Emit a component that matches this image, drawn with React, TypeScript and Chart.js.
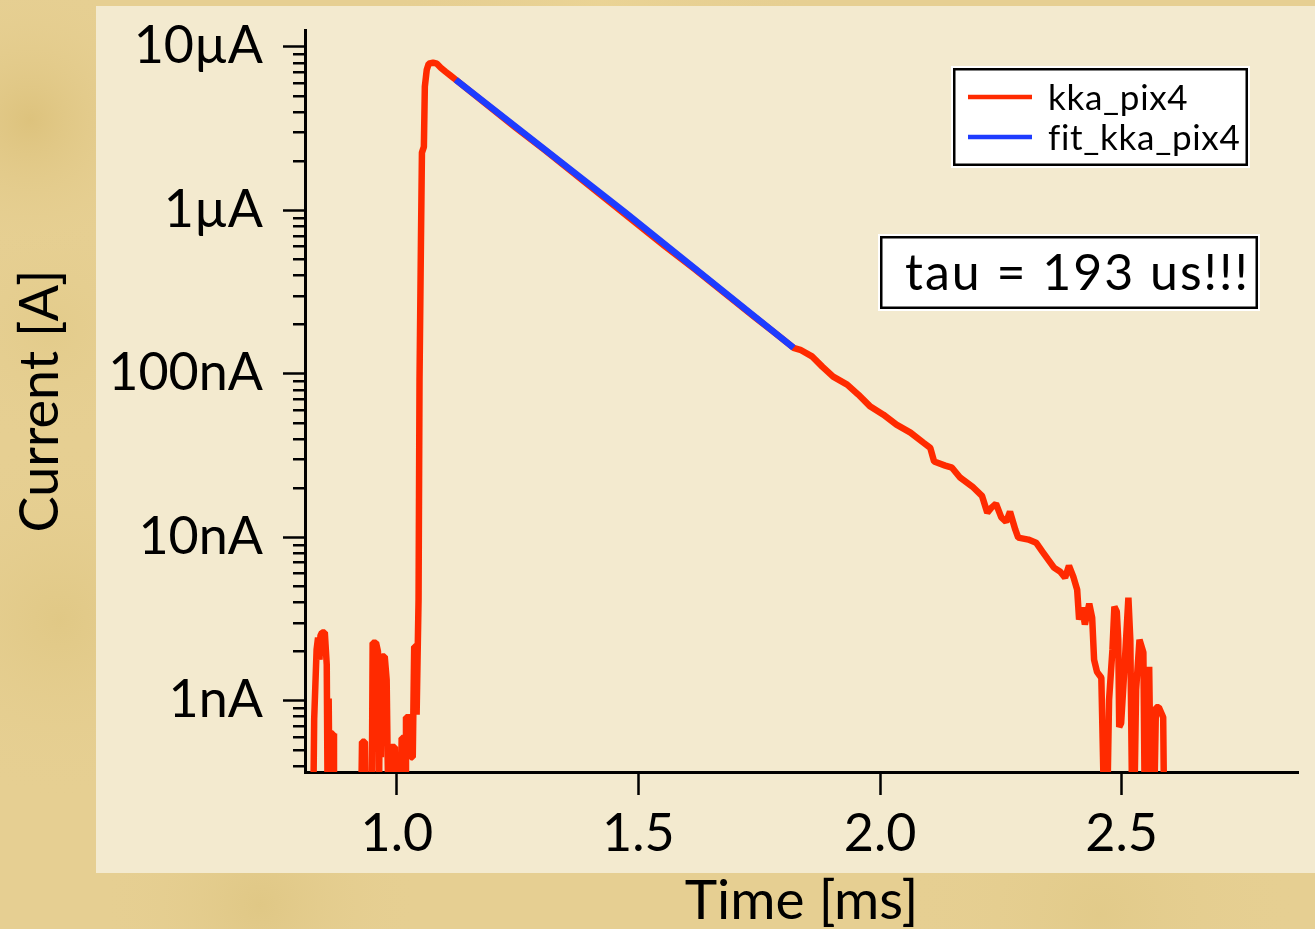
import { useEffect, useRef } from 'react';
import { Chart, registerables } from 'chart.js';

Chart.register(...registerables);

// ---------------- data ----------------
const redTime = [
  0.827, 0.829, 0.834, 0.837, 0.840, 0.842, 0.845, 0.851, 0.855, 0.857, 0.859, 0.861, 0.865, 0.868, 0.870,
  0.926, 0.928, 0.934, 0.936, 0.948, 0.950, 0.957, 0.961, 0.963, 0.965, 0.967, 0.969, 0.975, 0.979, 0.981,
  0.983, 0.988, 0.996, 0.998, 1.008, 1.010, 1.014, 1.017, 1.019, 1.027, 1.029, 1.033, 1.036, 1.038, 1.041,
  1.045, 1.047, 1.050, 1.052, 1.056, 1.058, 1.062, 1.066, 1.075, 1.083, 1.091, 1.101, 1.110, 1.122, 1.184,
  1.246, 1.308, 1.370, 1.432, 1.494, 1.556, 1.618, 1.680, 1.742, 1.784, 1.821, 1.835, 1.860, 1.881, 1.903,
  1.932, 1.955, 1.980, 2.007, 2.034, 2.063, 2.090, 2.104, 2.112, 2.135, 2.149, 2.166, 2.191, 2.211, 2.222,
  2.230, 2.240, 2.251, 2.261, 2.269, 2.280, 2.286, 2.307, 2.323, 2.336, 2.348, 2.360, 2.373, 2.383, 2.391,
  2.400, 2.408, 2.412, 2.418, 2.424, 2.433, 2.439, 2.443, 2.449, 2.458, 2.464, 2.470, 2.474, 2.481, 2.485,
  2.490, 2.493, 2.495, 2.499, 2.506, 2.514, 2.518, 2.522, 2.526, 2.530, 2.537, 2.545, 2.548, 2.553, 2.557,
  2.561, 2.567, 2.571, 2.577, 2.586, 2.588,
];
// current in nA (0.2 = reading below the bottom of the axis)
const redCurrentNA = [
  0.20, 0.77, 2.05, 2.43, 1.78, 2.50, 2.61, 2.61, 1.66, 0.20, 1.03, 0.20, 0.63, 0.63, 0.20,
  0.20, 0.56, 0.56, 0.20, 0.20, 2.26, 2.26, 2.00, 0.20, 1.66, 0.45, 1.86, 1.86, 1.34, 0.45,
  0.20, 0.52, 0.52, 0.20, 0.20, 0.59, 0.59, 0.20, 0.79, 0.79, 0.45, 0.45, 2.14, 2.14, 0.82,
  4.15, 92, 661, 2250, 2440, 5690, 7230, 7870, 7980, 7870, 7440, 7030, 6700, 6280, 4480,
  3200, 2310, 1650, 1175, 839, 598, 433, 308, 220, 176, 144, 140, 127, 110, 95.9,
  85.7, 74.5, 62.9, 56.1, 48.8, 43.6, 37.8, 35.2, 29.0, 27.4, 26.6, 23.1, 20.4, 17.9, 14.1,
  15.1, 16.0, 13.2, 12.4, 14.3, 11.1, 9.93, 9.66, 9.25, 8.15, 7.28, 6.51, 6.15, 5.65, 6.69,
  5.73, 4.77, 3.13, 3.71, 2.92, 3.92, 3.22, 1.78, 1.50, 1.38, 0.20, 0.20, 1.01, 2.05, 3.76,
  3.50, 2.36, 0.69, 0.73, 1.61, 4.27, 2.36, 0.20, 0.20, 1.17, 2.36, 1.97, 0.20, 0.20, 1.61,
  0.20, 0.20, 0.91, 0.91, 0.79, 0.20,
];
const fitTime = [1.122, 1.473, 1.821];
const fitCurrentNA = [6280, 966, 144];

const seriesLabels = ['kka_pix4', 'fit_kka_pix4'];
const seriesColors = ['#ff2a00', '#1e3cff'];

const xTickValues = [1.0, 1.5, 2.0, 2.5];
const yMajorValues = [1e-9, 1e-8, 1e-7, 1e-6, 1e-5];
const yMajorLabels = ['1nA', '10nA', '100nA', '1\u00b5A', '10\u00b5A'];
const yMinorMultipliers = [2, 3, 4, 5, 6, 7, 8, 9];
const yDecades = [1e-10, 1e-9, 1e-8, 1e-7, 1e-6, 1e-5];

const xTitle = 'Time [ms]';
const yTitle = 'Current [A]';
const annotationText = 'tau = 193 us!!!';

const X_MIN = 0.81;
const X_MAX = 2.865;
const Y_MIN = 3.66e-10;
const Y_MAX = 1.265e-5;

// ---------------- helpers ----------------
const FONT = 'Lato, "Open Sans", sans-serif';

function majorIndex(v: number): number {
  for (let i = 0; i < yMajorValues.length; i++) {
    if (Math.abs(Math.log10(v) - Math.log10(yMajorValues[i])) < 1e-6) return i;
  }
  return -1;
}

function buildYTicks() {
  const vals: number[] = [];
  yDecades.forEach((d) => {
    vals.push(d);
    yMinorMultipliers.forEach((m) => vals.push(m * d));
  });
  return vals
    .filter((v) => v >= Y_MIN && v <= Y_MAX)
    .sort((a, b) => a - b)
    .map((v) => ({ value: v }));
}

const paperPlugin = {
  id: 'paper',
  beforeDraw(chart: any) {
    const { ctx, width, height } = chart;
    ctx.save();
    ctx.fillStyle = '#e6cf92';
    ctx.fillRect(0, 0, width, height);
    const spots: [number, number, number, string][] = [
      [30, 120, 140, 'rgba(212,182,104,0.5)'],
      [50, 330, 120, 'rgba(222,198,128,0.4)'],
      [60, 620, 180, 'rgba(216,190,115,0.4)'],
      [260, 905, 160, 'rgba(214,188,114,0.4)'],
      [1100, 915, 200, 'rgba(218,194,122,0.35)'],
      [600, 0, 220, 'rgba(238,216,152,0.5)'],
    ];
    spots.forEach(([x, y, r, c]) => {
      const g = ctx.createRadialGradient(x, y, 0, x, y, r);
      g.addColorStop(0, c);
      g.addColorStop(1, 'rgba(230,207,146,0)');
      ctx.fillStyle = g;
      ctx.fillRect(x - r, y - r, 2 * r, 2 * r);
    });
    ctx.fillStyle = '#f3eacf';
    ctx.fillRect(96, 6, width - 96, 867);
    ctx.restore();
  },
};

function drawBox(ctx: CanvasRenderingContext2D, x: number, y: number, w: number, h: number) {
  ctx.fillStyle = '#ffffff';
  ctx.fillRect(x - 2, y - 2, w + 4, h + 4);
  ctx.strokeStyle = '#000000';
  ctx.lineWidth = 2.5;
  ctx.strokeRect(x + 1.25, y + 1.25, w - 2.5, h - 2.5);
}

const overlayPlugin = {
  id: 'overlay',
  afterDraw(chart: any) {
    const ctx: any = chart.ctx;
    ctx.save();
    // minor y ticks
    const ys = chart.scales.y;
    ctx.strokeStyle = '#000';
    ctx.lineWidth = 2.5;
    ys.ticks.forEach((t: any) => {
      if (majorIndex(t.value) >= 0) return;
      const py = Math.round(ys.getPixelForValue(t.value)) + 0.25;
      ctx.beginPath();
      ctx.moveTo(chart.chartArea.left - 12, py);
      ctx.lineTo(chart.chartArea.left, py);
      ctx.stroke();
    });

    // legend
    drawBox(ctx, 953, 68, 295, 98);
    const items = chart.data.datasets
      .map((ds: any) => ds)
      .sort((a: any, b: any) => seriesLabels.indexOf(a.label) - seriesLabels.indexOf(b.label));
    items.forEach((ds: any, i: number) => {
      const ly = 97 + i * 40;
      ctx.strokeStyle = ds.borderColor;
      ctx.lineWidth = 4.5;
      ctx.beginPath();
      ctx.moveTo(968, ly);
      ctx.lineTo(1032, ly);
      ctx.stroke();
      ctx.fillStyle = '#000';
      ctx.font = `35px ${FONT}`;
      ctx.letterSpacing = '0.7px';
      ctx.textAlign = 'left';
      ctx.textBaseline = 'alphabetic';
      ctx.fillText(ds.label, 1048, 110 + i * 40);
    });

    // annotation
    drawBox(ctx, 880, 236, 378, 73);
    ctx.fillStyle = '#000';
    ctx.font = `50px ${FONT}`;
    ctx.letterSpacing = '2px';
    ctx.textAlign = 'left';
    ctx.textBaseline = 'alphabetic';
    ctx.fillText(annotationText, 905, 290);
    ctx.letterSpacing = '0px';
    ctx.restore();
  },
};

export default function App() {
  const ref = useRef<HTMLCanvasElement>(null);

  useEffect(() => {
    const canvas = ref.current;
    if (!canvas) return;
    const redData = redTime.map((t, i) => ({ x: t, y: redCurrentNA[i] * 1e-9 }));
    const fitData = fitTime.map((t, i) => ({ x: t, y: fitCurrentNA[i] * 1e-9 }));

    const chart = new Chart(canvas, {
      type: 'line',
      data: {
        datasets: [
          {
            label: seriesLabels[0],
            data: redData,
            borderColor: seriesColors[0],
            backgroundColor: seriesColors[0],
            borderWidth: 6.5,
            pointRadius: 0,
            borderJoinStyle: 'bevel',
            tension: 0,
            order: 2,
          },
          {
            label: seriesLabels[1],
            data: fitData,
            borderColor: seriesColors[1],
            backgroundColor: seriesColors[1],
            borderWidth: 6.5,
            pointRadius: 0,
            tension: 0,
            order: 1,
          },
        ],
      },
      options: {
        responsive: false,
        animation: false,
        devicePixelRatio: 1,
        layout: { padding: { left: 0, top: 30, right: 17, bottom: 0 } },
        plugins: {
          legend: { display: false },
          tooltip: { enabled: false },
        },
        scales: {
          x: {
            type: 'linear',
            position: 'bottom',
            min: X_MIN,
            max: X_MAX,
            afterBuildTicks: (s: any) => {
              s.ticks = xTickValues.map((v) => ({ value: v }));
            },
            afterFit: (s: any) => {
              s.height = 157;
            },
            ticks: {
              autoSkip: false,
              maxRotation: 0,
              minRotation: 0,
              padding: 13,
              color: '#000',
              font: { family: FONT, size: 52, lineHeight: 1 },
              callback: (v: any) => Number(v).toFixed(1),
            },
            grid: {
              drawOnChartArea: false,
              drawTicks: true,
              tickLength: 23,
              tickWidth: 2.5,
              tickColor: '#000',
            },
            border: { display: true, color: '#000', width: 3 },
            title: {
              display: true,
              text: xTitle,
              color: '#000',
              font: { family: FONT, size: 55, lineHeight: 1 },
              padding: { top: 0, bottom: 0 },
            },
          },
          y: {
            type: 'logarithmic',
            position: 'left',
            min: Y_MIN,
            max: Y_MAX,
            afterBuildTicks: (s: any) => {
              s.ticks = buildYTicks();
            },
            afterFit: (s: any) => {
              s.width = 305;
              s.paddingTop = 0;
              s.paddingBottom = 0;
            },
            ticks: {
              autoSkip: false,
              padding: 20,
              color: '#000',
              font: { family: FONT, size: 52, lineHeight: 0.2 },
              callback: (v: any) => {
                const i = majorIndex(Number(v));
                return i >= 0 ? yMajorLabels[i] : '';
              },
            },
            grid: {
              drawOnChartArea: false,
              drawTicks: true,
              tickLength: 22,
              tickWidth: 2.5,
              tickColor: (c: any) =>
                c.tick && majorIndex(c.tick.value) >= 0 ? '#000' : 'rgba(0,0,0,0)',
            },
            border: { display: true, color: '#000', width: 3 },
            title: {
              display: true,
              text: yTitle,
              color: '#000',
              font: { family: FONT, size: 54, lineHeight: 1 },
              padding: { top: 14, bottom: 0 },
            },
          },
        },
      } as any,
      plugins: [paperPlugin, overlayPlugin],
    });

    let alive = true;
    if ((document as any).fonts && (document as any).fonts.load) {
      (document as any).fonts.load(`52px Lato`).then(() => {
        if (alive) chart.update();
      });
    }
    return () => {
      alive = false;
      chart.destroy();
    };
  }, []);

  return (
    <div style={{ position: 'fixed', left: 0, top: 0, width: 1315, height: 929 }}>
      <canvas
        ref={ref}
        width={1315}
        height={929}
        style={{ display: 'block', width: 1315, height: 929 }}
      />
    </div>
  );
}
